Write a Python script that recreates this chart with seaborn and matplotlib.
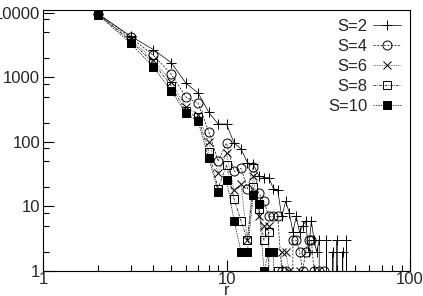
import pandas as pd
import seaborn as sns
import matplotlib
matplotlib.use("Agg")
import matplotlib.pyplot as plt
from matplotlib.ticker import FixedLocator, FixedFormatter, NullFormatter

# cluster size r = 2..50, counts per S (0 = no cluster of that size)
r = list(range(2, 51))
s2 = [9600, 4400, 2700, 1700, 820, 575, 290, 190, 190, 96,
      78, 48, 45, 30, 28, 28, 19, 18, 7, 12,
      8, 4, 7, 4, 5, 6, 2, 6, 3, 2,
      3, 0, 0, 3, 0, 0, 2, 0, 3, 0,
      0, 2, 0, 3, 0, 0, 0, 0, 0]
s4 = [9800, 4200, 2200, 1130, 500, 400, 145, 50, 96, 35,
      39, 19, 41, 16, 12, 7, 7, 7, 1, 1,
      0, 3, 3, 2, 1, 2, 3, 3, 1, 0,
      1, 0, 1, 0, 0, 0, 0, 0, 0, 0,
      0, 0, 0, 0, 0, 0, 0, 0, 0]
s6 = [9500, 3900, 1870, 850, 350, 260, 100, 33, 67, 18,
      22, 3, 30, 7, 5, 5, 0, 0, 2, 2,
      1, 0, 0, 1, 0, 0, 0, 0, 0, 0,
      0, 0, 0, 0, 0, 0, 0, 0, 0, 0,
      0, 0, 0, 0, 0, 0, 0, 0, 0]
s8 = [9500, 3700, 1680, 740, 300, 240, 70, 19, 44, 13,
      6, 3, 20, 9, 3, 4, 0, 1, 0, 0,
      0, 0, 0, 0, 0, 0, 0, 0, 0, 0,
      0, 0, 0, 0, 0, 0, 0, 0, 0, 0,
      0, 0, 0, 0, 0, 0, 0, 0, 0]
s10 = [9300, 3400, 1450, 620, 280, 210, 56, 17, 26, 6,
       2, 2, 15, 11, 1, 2, 2, 0, 0, 0,
       0, 0, 0, 0, 0, 0, 0, 0, 0, 0,
       0, 0, 0, 0, 0, 0, 0, 0, 0, 0,
       0, 0, 0, 0, 0, 0, 0, 0, 0]
labels = ["S=2", "S=4", "S=6", "S=8", "S=10"]
series = [s2, s4, s6, s8, s10]

styles = {
    "S=2": dict(marker="+", mfc="black", ls="-", ms=7),
    "S=4": dict(marker="o", mfc="none", ls=(0, (3, 2)), ms=6.5),
    "S=6": dict(marker="x", mfc="black", ls=(0, (1, 1.5)), ms=5.5),
    "S=8": dict(marker="s", mfc="none", ls=(0, (4, 1.5, 1, 1.5)), ms=6),
    "S=10": dict(marker="s", mfc="black", ls=(0, (2, 1.5)), ms=6),
}

sns.set_style("white")
plt.rcParams["font.family"] = ["Liberation Sans", "DejaVu Sans"]

fig = plt.figure(figsize=(4.23, 2.96), dpi=100)
ax = fig.add_axes([43 / 423, 25 / 296, 367 / 423, 261 / 296])

for lab, vals in zip(labels, series):
    df = pd.DataFrame({"r": r, "n": vals})
    st = styles[lab]
    sns.lineplot(data=df, x="r", y="n", ax=ax, color="black", lw=0.5,
                 marker=st["marker"], markersize=st["ms"], mfc=st["mfc"],
                 mec="black", mew=0.7, linestyle=st["ls"], label=lab,
                 legend=False, estimator=None)

ax.set_xscale("log")
ax.set_yscale("log")
ax.set_xlim(1, 100)
ax.set_ylim(1, 11130)

ax.xaxis.set_major_locator(FixedLocator([1, 10, 100]))
ax.xaxis.set_major_formatter(FixedFormatter(["1", "10", "100"]))
ax.xaxis.set_minor_locator(FixedLocator([m * d for d in (1, 10) for m in range(2, 10)]))
ax.xaxis.set_minor_formatter(NullFormatter())
ax.yaxis.set_major_locator(FixedLocator([1, 10, 100, 1000, 10000]))
ax.yaxis.set_major_formatter(FixedFormatter(["1", "10", "100", "1000", "10000"]))
ax.yaxis.set_minor_locator(FixedLocator([m * d for d in (1, 10, 100, 1000) for m in (2, 5, 8)]))
ax.yaxis.set_minor_formatter(NullFormatter())

ax.tick_params(which="both", direction="in", top=False, right=False,
               bottom=True, left=True, color="black", width=0.8, labelsize=12)
ax.tick_params(which="major", length=8)
ax.tick_params(which="minor", length=4)
ax.tick_params(axis="y", pad=2)
ax.tick_params(axis="x", pad=1)

for sp in ax.spines.values():
    sp.set_color("black")
    sp.set_linewidth(0.8)

ax.set_ylabel("")
ax.set_xlabel("r", fontsize=12, va="baseline")
ax.xaxis.set_label_coords(0.5, -(295 - 271) / 261)

handles = ax.lines[:5]
ax.legend(handles, labels, loc="upper right", frameon=False, markerfirst=False,
          fontsize=12, handlelength=1.7, handletextpad=0.3, labelspacing=0.3,
          borderaxespad=0.15, numpoints=1)

fig.savefig("out.png", dpi=100)
